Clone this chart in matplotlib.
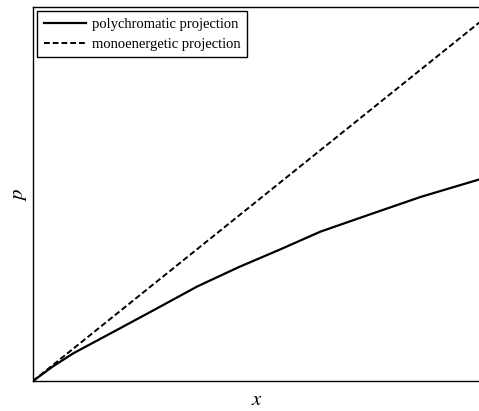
import numpy as np
import matplotlib.pyplot as plt

# values (arbitrary units, no ticks)
x_poly = [0.0, 0.045, 0.090, 0.180, 0.274, 0.367, 0.460, 0.554, 0.643, 0.756, 0.868, 1.0]
p_poly = [0.0, 0.041, 0.077, 0.137, 0.200, 0.263, 0.317, 0.367, 0.416, 0.465, 0.513, 0.562]
x_mono = [0.0, 1.0]
p_mono = [0.0, 1.0]

plt.rcParams["font.family"] = "Liberation Serif"
plt.rcParams['mathtext.fontset'] = 'stix'

fig = plt.figure(figsize=(4.79, 4.11), dpi=100)
ax = fig.add_axes([33/479, 1 - 381/411, 1 - 33/479 + 0.002, (381 - 7)/411])

ax.plot(x_poly, p_poly, 'k-', lw=1.6, label='polychromatic projection')
ax.plot(x_mono, p_mono, 'k--', lw=1.4, dashes=(3, 1.5), label='monoenergetic projection')

ax.set_xlim(0, 1)
ax.set_ylim(0, 374/359)
ax.set_xticks([])
ax.set_yticks([])
for s in ax.spines.values():
    s.set_linewidth(1.0)

ax.set_xlabel('$x$', fontsize=15, labelpad=7)
ax.set_ylabel('$p$', fontsize=15, labelpad=3)

leg = ax.legend(loc='upper left', fontsize=10.5, handlelength=2.9, borderaxespad=0.3,
                fancybox=False, edgecolor='black', framealpha=1,
                labelspacing=0.45, handletextpad=0.4, borderpad=0.45)
leg.get_frame().set_linewidth(1.0)

fig.savefig('out.png', dpi=100)
